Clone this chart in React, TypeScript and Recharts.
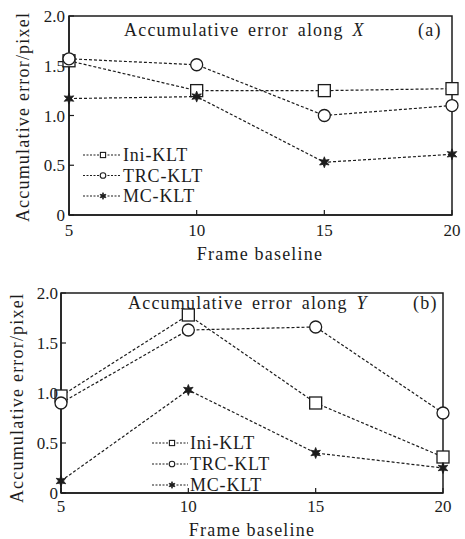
import { LineChart, Line, XAxis, YAxis, ReferenceArea } from "recharts";

// frame baselines on the x axis
const frames = [5, 10, 15, 20];

// (a) accumulative error along X
const iniAlongX = [1.55, 1.25, 1.25, 1.27];
const trcAlongX = [1.57, 1.51, 1.0, 1.1];
const mcAlongX = [1.17, 1.19, 0.53, 0.61];

// (b) accumulative error along Y
const iniAlongY = [0.97, 1.78, 0.9, 0.36];
const trcAlongY = [0.9, 1.63, 1.66, 0.8];
const mcAlongY = [0.12, 1.03, 0.4, 0.25];

const seriesNames = ["Ini-KLT", "TRC-KLT", "MC-KLT"];
const xTicks = [5, 10, 15, 20];
const yTicks = [0, 0.5, 1, 1.5, 2];

const SERIF = "'Liberation Serif', 'Times New Roman', serif";
const INK = "#1c1c1c";

const toRows = (ini: number[], trc: number[], mc: number[]) =>
  frames.map((f, i) => ({ frame: f, ini: ini[i], trc: trc[i], mc: mc[i] }));

const SquareMark = ({ cx, cy, r, w = 1.3 }: any) => (
  <rect x={cx - r} y={cy - r} width={r * 2} height={r * 2} fill="#fff" stroke={INK} strokeWidth={w} />
);

const CircleMark = ({ cx, cy, r, w = 1.3 }: any) => (
  <circle cx={cx} cy={cy} r={r} fill="#fff" stroke={INK} strokeWidth={w} />
);

const StarMark = ({ cx, cy, r }: any) => {
  const pts: string[] = [];
  for (let k = 0; k < 12; k++) {
    const a = (Math.PI / 6) * k - Math.PI / 2;
    const rr = k % 2 === 0 ? r : r * 0.45;
    pts.push(`${cx + rr * Math.cos(a)},${cy + rr * Math.sin(a)}`);
  }
  return <polygon points={pts.join(" ")} fill={INK} stroke={INK} strokeWidth={0.8} />;
};

const marks = [SquareMark, CircleMark, StarMark];
const markSize = [6, 6, 5.5];
const legendMarkSize = [2.6, 2.8, 3.4];

// legend drawn in page coordinates (inside each plot, lower left)
const LegendRows = ({ x, y, rowGap, lineLen, markDx, textDx }: any) => (
  <g>
    {seriesNames.map((name, i) => {
      const cy = y + i * rowGap;
      const Mark = marks[i];
      return (
        <g key={name}>
          <line x1={x} x2={x + lineLen} y1={cy} y2={cy} stroke={INK} strokeWidth={1.2} strokeDasharray="2 1.5" />
          <Mark cx={x + markDx} cy={cy} r={legendMarkSize[i]} w={1.1} />
          <text x={x + textDx} y={cy + 6} fontFamily={SERIF} fontSize={18} letterSpacing={0.8} fill={INK}>
            {name}
          </text>
        </g>
      );
    })}
  </g>
);

const Panel = ({ rows, height, margin, xTickMargin, yTickMargin }: any) => (
  <LineChart width={465} height={height} data={rows} margin={margin}>
    <ReferenceArea x1={5} x2={20} y1={0} y2={2} fill="none" stroke={INK} strokeWidth={1.5} ifOverflow="visible" />
    <XAxis
      dataKey="frame"
      type="number"
      domain={[5, 20]}
      ticks={xTicks}
      height={30}
      tickSize={-5}
      tickMargin={xTickMargin}
      axisLine={{ stroke: INK, strokeWidth: 1.5 }}
      tickLine={{ stroke: INK, strokeWidth: 1.2 }}
      tick={{ fill: INK, fontSize: 17, fontFamily: SERIF }}
      interval={0}
    />
    <YAxis
      type="number"
      domain={[0, 2]}
      ticks={yTicks}
      width={45}
      tickSize={-5}
      tickMargin={yTickMargin}
      axisLine={{ stroke: INK, strokeWidth: 1.5 }}
      tickLine={{ stroke: INK, strokeWidth: 1.2 }}
      tick={{ fill: INK, fontSize: 17, fontFamily: SERIF }}
      tickFormatter={(v: number) => (v === 0 ? "0" : v.toFixed(1))}
      interval={0}
    />
    {["ini", "trc", "mc"].map((key, i) => {
      const Mark = marks[i];
      return (
        <Line
          key={key}
          dataKey={key}
          name={seriesNames[i]}
          type="linear"
          stroke={INK}
          strokeWidth={1.2}
          strokeDasharray="3 2"
          isAnimationActive={false}
          dot={(p: any) => <Mark key={`${key}-${p.index}`} cx={p.cx} cy={p.cy} r={markSize[i]} />}
        />
      );
    })}
  </LineChart>
);

const textStyle = { fontFamily: SERIF, fontSize: 18, fill: INK, letterSpacing: 1.2 } as const;

export default function App() {
  return (
    <div style={{ position: "absolute", left: 0, top: 0, width: 465, height: 539, background: "#fff" }}>
      <Panel
        rows={toRows(iniAlongX, trcAlongX, mcAlongX)}
        height={270}
        margin={{ top: 16, right: 13, left: 24, bottom: 25 }}
        xTickMargin={14}
        yTickMargin={9}
      />
      <div style={{ position: "absolute", left: 0, top: 270 }}>
        <Panel
          rows={toRows(iniAlongY, trcAlongY, mcAlongY)}
          height={269}
          margin={{ top: 23, right: 22, left: 16, bottom: 16 }}
          xTickMargin={12}
          yTickMargin={8}
        />
      </div>
      <svg
        width={465}
        height={539}
        style={{ position: "absolute", left: 0, top: 0, pointerEvents: "none" }}
      >
        <LegendRows x={83} y={155} rowGap={20.5} lineLen={37} markDx={20} textDx={40} />
        <LegendRows x={152} y={443} rowGap={21} lineLen={36} markDx={20} textDx={38} />

        <text x={124} y={36} {...textStyle} wordSpacing={3}>
          Accumulative error along <tspan fontStyle="italic">X</tspan>
        </text>
        <text x={418} y={36} {...textStyle}>(a)</text>
        <text x={260} y={260} textAnchor="middle" {...textStyle}>Frame baseline</text>
        <text transform="translate(29,117) rotate(-90)" textAnchor="middle" {...textStyle}>
          Accumulative error/pixel
        </text>

        <text x={128} y={309} {...textStyle} wordSpacing={3}>
          Accumulative error along <tspan fontStyle="italic">Y</tspan>
        </text>
        <text x={413} y={309} {...textStyle}>(b)</text>
        <text x={252} y={536} textAnchor="middle" {...textStyle}>Frame baseline</text>
        <text transform="translate(23,398) rotate(-90)" textAnchor="middle" {...textStyle}>
          Accumulative error/pixel
        </text>
      </svg>
    </div>
  );
}
